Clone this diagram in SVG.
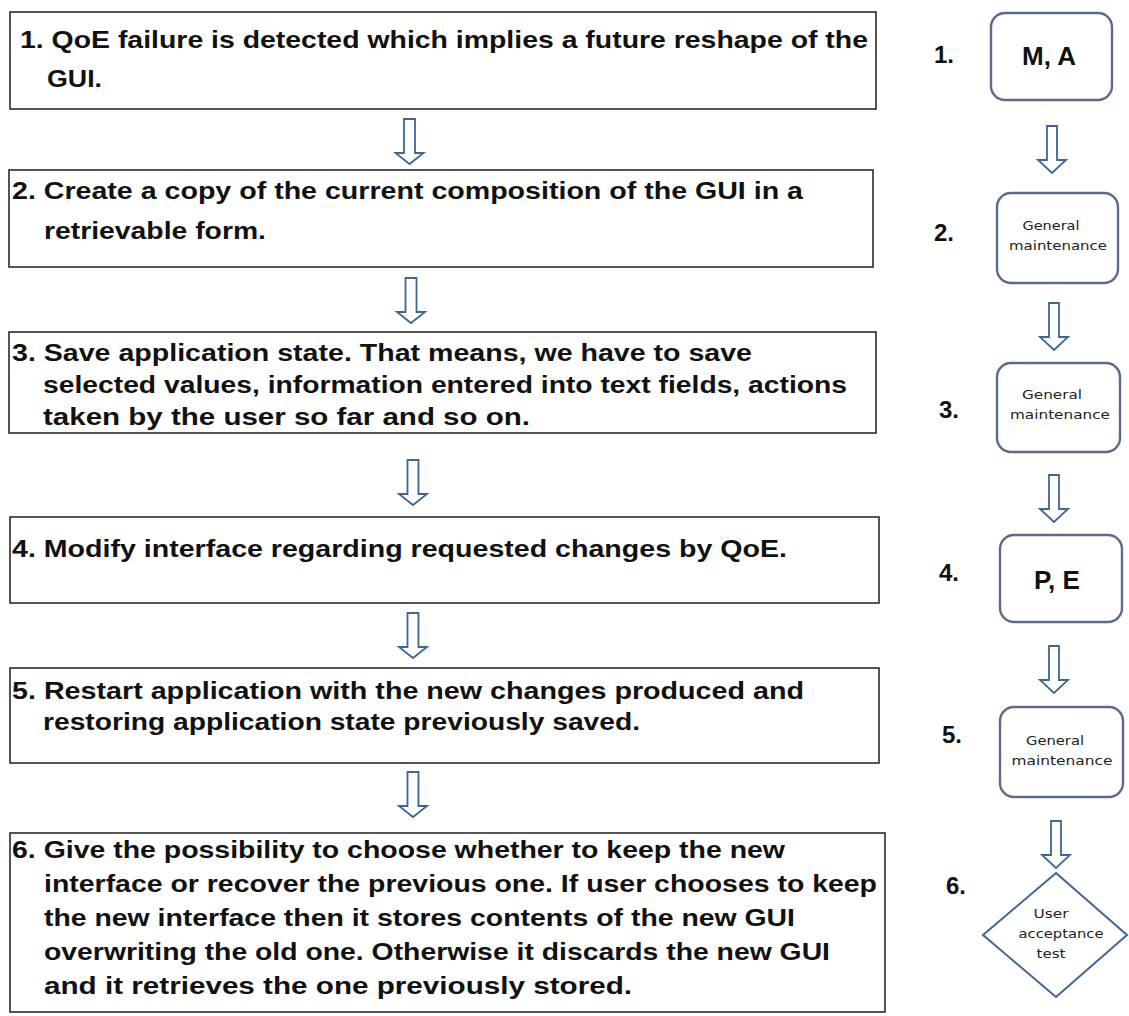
<svg xmlns="http://www.w3.org/2000/svg" xmlns:xlink="http://www.w3.org/1999/xlink" width="1129" height="1016" viewBox="0 0 1129 1016">
  <style>
    .step { fill: #ffffff; stroke: #2b2b2b; stroke-width: 1.6; }
    .txt { font-family: "Liberation Sans", Arial, sans-serif; font-weight: bold; font-size: 23px; fill: #111; }
    .narrow { font-family: "Liberation Sans Narrow", "Liberation Sans", Arial, sans-serif; font-weight: bold; font-size: 24px; fill: #111; }
    .num { font-family: "Liberation Sans", Arial, sans-serif; font-weight: bold; font-size: 24px; fill: #111; }
    .tag { fill: #ffffff; stroke: #5d6b8a; stroke-width: 2.4; }
    .big { font-family: "Liberation Sans", Arial, sans-serif; font-weight: bold; font-size: 26px; fill: #111; text-anchor: middle; }
    .small { font-family: "DejaVu Sans", Verdana, sans-serif; font-size: 12px; fill: #222; text-anchor: middle; }
    .arrow { fill: #ffffff; stroke: #3f6597; stroke-width: 1.8; stroke-linejoin: miter; }
  </style>
  <defs>
    <!-- hollow down arrows, tip at origin -->
    <path id="arrowL" d="M -5.5,-45 V -11 H -14 L 0,0 L 14,-11 H 5.5 V -45 Z"/>
    <path id="arrowR" d="M -5,-47 V -13 H -14 L 0,0 L 14,-13 H 5 V -47 Z"/>
  </defs>

  <rect width="1129" height="1016" fill="#ffffff"/>

  <!-- connectors -->
  <g id="connectors" class="arrow">
    <use xlink:href="#arrowL" x="409.5" y="164"/>
    <use xlink:href="#arrowL" x="411" y="323"/>
    <use xlink:href="#arrowL" x="413" y="505"/>
    <use xlink:href="#arrowL" x="413" y="658"/>
    <use xlink:href="#arrowL" x="413" y="817"/>
    <use xlink:href="#arrowR" x="1052" y="173"/>
    <use xlink:href="#arrowR" x="1054" y="350"/>
    <use xlink:href="#arrowR" x="1054" y="522"/>
    <use xlink:href="#arrowR" x="1054" y="693"/>
    <use xlink:href="#arrowR" x="1056" y="868"/>
  </g>

  <!-- step descriptions -->
  <g id="step1">
    <rect class="step" x="10" y="12" width="866" height="97"/>
    <text class="narrow" x="20" y="48" textLength="848" lengthAdjust="spacingAndGlyphs">1. QoE failure is detected which implies a future reshape of the</text>
    <text class="narrow" x="47" y="87" textLength="55" lengthAdjust="spacingAndGlyphs">GUI.</text>
  </g>
  <g id="step2">
    <rect class="step" x="9" y="170" width="864" height="97"/>
    <text class="txt" x="12" y="199" textLength="791" lengthAdjust="spacingAndGlyphs">2.  Create a copy of the current composition of the GUI in a</text>
    <text class="txt" x="44" y="239" textLength="222" lengthAdjust="spacingAndGlyphs">retrievable form.</text>
  </g>
  <g id="step3">
    <rect class="step" x="9" y="332" width="867" height="101"/>
    <text class="txt" x="12" y="361" textLength="740" lengthAdjust="spacingAndGlyphs">3. Save application state. That means, we have to save</text>
    <text class="txt" x="43" y="393" textLength="804" lengthAdjust="spacingAndGlyphs">selected values, information entered into text fields, actions</text>
    <text class="txt" x="43" y="425" textLength="487" lengthAdjust="spacingAndGlyphs">taken by the user so far and so on.</text>
  </g>
  <g id="step4">
    <rect class="step" x="10" y="517" width="869" height="86"/>
    <text class="txt" x="12" y="557" textLength="775" lengthAdjust="spacingAndGlyphs">4. Modify interface regarding requested changes by QoE.</text>
  </g>
  <g id="step5">
    <rect class="step" x="10" y="668" width="869" height="95"/>
    <text class="txt" x="12" y="699" textLength="792" lengthAdjust="spacingAndGlyphs">5. Restart application with the new changes produced and</text>
    <text class="txt" x="43" y="730" textLength="597" lengthAdjust="spacingAndGlyphs">restoring application state previously saved.</text>
  </g>
  <g id="step6">
    <rect class="step" x="10" y="833" width="875" height="179"/>
    <text class="txt" x="12" y="858" textLength="773" lengthAdjust="spacingAndGlyphs">6. Give the possibility to choose whether to keep the new</text>
    <text class="txt" x="44" y="892" textLength="833" lengthAdjust="spacingAndGlyphs">interface or recover the previous one. If user chooses to keep</text>
    <text class="txt" x="44" y="926" textLength="751" lengthAdjust="spacingAndGlyphs">the new interface then it stores contents of the new GUI</text>
    <text class="txt" x="44" y="960" textLength="786" lengthAdjust="spacingAndGlyphs">overwriting the old one. Otherwise it discards the new GUI</text>
    <text class="txt" x="44" y="994" textLength="588" lengthAdjust="spacingAndGlyphs">and it retrieves the one previously stored.</text>
  </g>

  <!-- phase tags -->
  <g id="tag1">
    <text class="num" x="934" y="63">1.</text>
    <rect class="tag" x="991" y="13" width="121" height="87" rx="14"/>
    <text class="big" x="1049" y="65">M, A</text>
  </g>
  <g id="tag2">
    <text class="num" x="934" y="241">2.</text>
    <rect class="tag" x="997" y="193" width="121" height="90" rx="14"/>
    <text class="small" x="1051" y="230" textLength="57" lengthAdjust="spacingAndGlyphs">General</text>
    <text class="small" x="1058" y="250" textLength="98" lengthAdjust="spacingAndGlyphs">maintenance</text>
  </g>
  <g id="tag3">
    <text class="num" x="939" y="418">3.</text>
    <rect class="tag" x="997" y="363" width="123" height="89" rx="14"/>
    <text class="small" x="1052" y="399" textLength="60" lengthAdjust="spacingAndGlyphs">General</text>
    <text class="small" x="1060" y="419" textLength="100" lengthAdjust="spacingAndGlyphs">maintenance</text>
  </g>
  <g id="tag4">
    <text class="num" x="939" y="581">4.</text>
    <rect class="tag" x="1000" y="535" width="122" height="87" rx="14"/>
    <text class="big" x="1057" y="589">P, E</text>
  </g>
  <g id="tag5">
    <text class="num" x="942" y="743">5.</text>
    <rect class="tag" x="1000" y="707" width="123" height="90" rx="14"/>
    <text class="small" x="1055" y="745" textLength="58" lengthAdjust="spacingAndGlyphs">General</text>
    <text class="small" x="1062" y="765" textLength="101" lengthAdjust="spacingAndGlyphs">maintenance</text>
  </g>
  <g id="tag6">
    <text class="num" x="946" y="894">6.</text>
    <polygon points="1056,873 1127,935 1056,997 983,935" fill="#ffffff" stroke="#3f6597" stroke-width="2"/>
    <text class="small" x="1051" y="918" textLength="35" lengthAdjust="spacingAndGlyphs">User</text>
    <text class="small" x="1061" y="938" textLength="85" lengthAdjust="spacingAndGlyphs">acceptance</text>
    <text class="small" x="1051" y="958" textLength="29" lengthAdjust="spacingAndGlyphs">test</text>
  </g>
</svg>
